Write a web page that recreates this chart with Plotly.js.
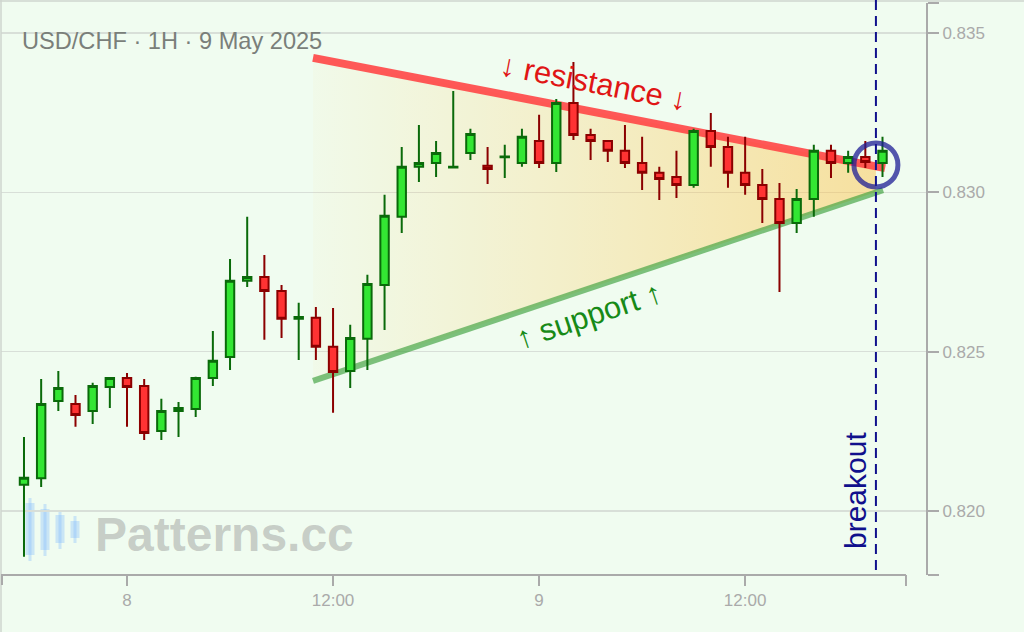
<!DOCTYPE html>
<html>
<head>
<meta charset="utf-8">
<script src="https://cdn.plot.ly/plotly-3.0.1.min.js"></script>
<style>html,body{margin:0;padding:0;background:#f0fcf0;}#chart{width:1024px;height:632px;}</style>
</head>
<body>
<div id="chart"></div>
<script>
// ---- data ----
const times = [
 '2025-05-07 18:00','2025-05-07 19:00','2025-05-07 20:00','2025-05-07 21:00','2025-05-07 22:00','2025-05-07 23:00',
 '2025-05-08 00:00','2025-05-08 01:00','2025-05-08 02:00','2025-05-08 03:00','2025-05-08 04:00','2025-05-08 05:00',
 '2025-05-08 06:00','2025-05-08 07:00','2025-05-08 08:00','2025-05-08 09:00','2025-05-08 10:00','2025-05-08 11:00',
 '2025-05-08 12:00','2025-05-08 13:00','2025-05-08 14:00','2025-05-08 15:00','2025-05-08 16:00','2025-05-08 17:00',
 '2025-05-08 18:00','2025-05-08 19:00','2025-05-08 20:00','2025-05-08 21:00','2025-05-08 22:00','2025-05-08 23:00',
 '2025-05-09 00:00','2025-05-09 01:00','2025-05-09 02:00','2025-05-09 03:00','2025-05-09 04:00','2025-05-09 05:00',
 '2025-05-09 06:00','2025-05-09 07:00','2025-05-09 08:00','2025-05-09 09:00','2025-05-09 10:00','2025-05-09 11:00',
 '2025-05-09 12:00','2025-05-09 13:00','2025-05-09 14:00','2025-05-09 15:00','2025-05-09 16:00','2025-05-09 17:00',
 '2025-05-09 18:00','2025-05-09 19:00','2025-05-09 20:00'
];
const openP = [
 0.82082,0.82103,0.82345,0.82336,0.82314,0.82389,0.82417,0.82392,0.82251,0.82314,0.82320,0.82417,
 0.82483,0.82722,0.82734,0.82690,0.82603,0.82606,0.82515,0.82439,0.82540,0.82709,0.82923,0.83080,
 0.83092,0.83078,0.83123,0.83083,0.83110,0.83092,0.83161,0.83092,0.83280,0.83180,0.83161,0.83130,
 0.83092,0.83061,0.83048,0.83023,0.83192,0.83142,0.83061,0.83023,0.82979,0.82904,0.82979,0.83130,
 0.83092,0.83111,0.83092
];
const highP = [
 0.82232,0.82414,0.82439,0.82364,0.82402,0.82419,0.82433,0.82414,0.82352,0.82342,0.82421,0.82565,
 0.82791,0.82923,0.82803,0.82709,0.82653,0.82640,0.82637,0.82584,0.82741,0.82992,0.83142,0.83211,
 0.83161,0.83318,0.83199,0.83142,0.83149,0.83199,0.83243,0.83293,0.83409,0.83199,0.83163,0.83211,
 0.83174,0.83080,0.83130,0.83199,0.83249,0.83174,0.83174,0.83073,0.83029,0.83010,0.83149,0.83149,
 0.83130,0.83161,0.83174
];
const lowP = [
 0.81856,0.82075,0.82314,0.82264,0.82273,0.82323,0.82264,0.82223,0.82223,0.82232,0.82295,0.82392,
 0.82442,0.82703,0.82537,0.82543,0.82474,0.82474,0.82308,0.82386,0.82442,0.82568,0.82872,0.83032,
 0.83048,0.83076,0.83101,0.83026,0.83045,0.83080,0.83076,0.83064,0.83164,0.83101,0.83095,0.83076,
 0.83007,0.82976,0.82982,0.83014,0.83080,0.83014,0.82992,0.82904,0.82687,0.82872,0.82923,0.83045,
 0.83061,0.83076,0.83048
];
const closeP = [
 0.82104,0.82336,0.82386,0.82301,0.82392,0.82417,0.82389,0.82245,0.82314,0.82323,0.82417,0.82471,
 0.82722,0.82734,0.82690,0.82603,0.82609,0.82515,0.82436,0.82543,0.82712,0.82926,0.83080,0.83092,
 0.83123,0.83080,0.83183,0.83073,0.83112,0.83174,0.83092,0.83280,0.83180,0.83161,0.83130,0.83092,
 0.83061,0.83042,0.83023,0.83192,0.83142,0.83061,0.83023,0.82979,0.82904,0.82979,0.83130,0.83092,
 0.83111,0.83095,0.83130
];
const resistanceX = ['2025-05-08 10:50','2025-05-09 20:09'];
const resistanceY = [0.83422, 0.83076];
const supportX = ['2025-05-08 10:50','2025-05-09 20:02'];
const supportY = [0.82408, 0.83007];
const zoneX = ['2025-05-08 10:50','2025-05-09 19:37','2025-05-09 19:37','2025-05-08 10:50'];
const zoneY = [0.83422, 0.83083, 0.83001, 0.82408];
const breakoutTime = '2025-05-09 19:37';
const breakoutPrice = 0.83086;
const xTickVals = ['2025-05-08 00:00','2025-05-08 12:00','2025-05-09 00:00','2025-05-09 12:00'];
const xTickText = ['8','12:00','9','12:00'];
const yTickVals = [0.81799, 0.820, 0.825, 0.830, 0.835, 0.83594];
const yTickText = ['', '0.820', '0.825', '0.830', '0.835', ''];
const xRange = ['2025-05-07 16:39:40', '2025-05-09 22:32'];
const xAxisEnd = '2025-05-09 21:22';
const yRange = [0.81799, 0.83594];
const titleText = 'USD/CHF · 1H · 9 May 2025';

// ---- layout helpers (pixel -> paper) ----
const ML = 1, MR = 98, MT = 3, MB = 57, W = 1024, H = 632;
const PW = W - ML - MR, PH = H - MT - MB;
const px = X => (X - ML) / PW;
const py = Y => (H - MB - Y) / PH;

const FONT = '"Liberation Sans", Arial, sans-serif';
const AX = '#aaaaaa';

const traces = [
  {
    type: 'scatter', mode: 'lines', x: zoneX, y: zoneY, fill: 'toself',
    line: {width: 0, color: 'rgba(0,0,0,0)'},
    fillgradient: {type: 'horizontal', colorscale: [[0, 'rgba(255,195,70,0.04)'], [1, 'rgba(255,190,60,0.45)']]},
    hoverinfo: 'skip'
  },
  {
    type: 'scatter', mode: 'lines', x: resistanceX, y: resistanceY,
    line: {color: 'rgba(255,70,70,0.9)', width: 8}, hoverinfo: 'skip'
  },
  {
    type: 'scatter', mode: 'lines', x: supportX, y: supportY,
    line: {color: 'rgba(60,160,60,0.65)', width: 6}, hoverinfo: 'skip'
  },
  {
    type: 'candlestick', xaxis: 'x2', yaxis: 'y2',
    x: times, open: openP, high: highP, low: lowP, close: closeP,
    increasing: {fillcolor: '#33e633', line: {color: '#0a6a0a', width: 2}},
    decreasing: {fillcolor: '#ff3333', line: {color: '#8b0000', width: 2}},
    hoverinfo: 'skip'
  }
];

// watermark icon (decoration)
const icon = [
  {x: 30, w0: 498, w1: 561, b0: 503, b1: 555},
  {x: 45, w0: 504, w1: 556, b0: 509, b1: 550},
  {x: 60, w0: 510, w1: 549, b0: 515, b1: 543},
  {x: 75, w0: 516, w1: 543, b0: 521, b1: 538}
];
const iconCol = 'rgba(130,185,255,0.35)';
const shapes = [];
icon.forEach(c => {
  shapes.push({type: 'line', xref: 'paper', yref: 'paper', layer: 'below',
    x0: px(c.x), x1: px(c.x), y0: py(c.w0), y1: py(c.w1), line: {color: iconCol, width: 3}});
  shapes.push({type: 'rect', xref: 'paper', yref: 'paper', layer: 'below',
    x0: px(c.x - 4.5), x1: px(c.x + 4.5), y0: py(c.b0), y1: py(c.b1), fillcolor: iconCol, line: {width: 0}});
});
// frame lines (top & left)
shapes.push({type: 'line', xref: 'paper', yref: 'paper', x0: px(0), x1: px(1024), y0: py(1), y1: py(1), line: {color: '#cfd6cf', width: 1.5}});
shapes.push({type: 'line', xref: 'paper', yref: 'paper', x0: px(1), x1: px(1), y0: py(632), y1: py(0), line: {color: '#cfd6cf', width: 1.5}});
// x axis line with end caps
shapes.push({type: 'line', xref: 'x', yref: 'paper', x0: xRange[0], x1: xAxisEnd, y0: 0, y1: 0, line: {color: AX, width: 2}});
shapes.push({type: 'line', xref: 'paper', yref: 'paper', x0: px(2), x1: px(2), y0: 0, y1: py(585), line: {color: AX, width: 2}});
shapes.push({type: 'line', xref: 'x', yref: 'paper', x0: xAxisEnd, x1: xAxisEnd, y0: 0, y1: py(586), line: {color: AX, width: 2}});
// breakout dashed line
shapes.push({type: 'line', xref: 'x', yref: 'paper', x0: breakoutTime, x1: breakoutTime, y0: py(570), y1: py(0),
  line: {color: '#10108c', width: 2, dash: '10px,6px'}});
// breakout circle
shapes.push({type: 'circle', xref: 'x', yref: 'y', xsizemode: 'pixel', ysizemode: 'pixel',
  xanchor: breakoutTime, yanchor: breakoutPrice, x0: -22, x1: 22, y0: -22, y1: 22,
  line: {color: 'rgba(30,30,150,0.75)', width: 5}});

const annotations = [
  {xref: 'paper', yref: 'paper', x: px(20), y: py(41), xanchor: 'left', yanchor: 'middle', showarrow: false,
   text: titleText, font: {family: FONT, size: 23.6, color: '#7a7f7a'}},
  {xref: 'paper', yref: 'paper', x: px(93), y: py(534), xanchor: 'left', yanchor: 'middle', showarrow: false,
   text: '<b>Patterns.cc</b>', font: {family: FONT, size: 48, color: 'rgba(140,140,140,0.42)'}},
  {xref: 'paper', yref: 'paper', x: px(594), y: py(82), xanchor: 'center', yanchor: 'middle', showarrow: false,
   text: '↓ resistance ↓', textangle: 11, font: {family: FONT, size: 31, color: '#e01515'}},
  {xref: 'paper', yref: 'paper', x: px(589), y: py(315), xanchor: 'center', yanchor: 'middle', showarrow: false,
   text: '↑ support ↑', textangle: -18.5, font: {family: FONT, size: 31, color: '#178a17'}},
  {xref: 'paper', yref: 'paper', x: px(855), y: py(491), xanchor: 'center', yanchor: 'middle', showarrow: false,
   text: 'breakout', textangle: -90, font: {family: FONT, size: 30, color: '#10108c'}}
];

const layout = {
  width: W, height: H,
  margin: {l: ML, r: MR, t: MT, b: MB, pad: 0},
  paper_bgcolor: '#f0fcf0', plot_bgcolor: '#f0fcf0',
  showlegend: false,
  font: {family: FONT},
  xaxis: {
    type: 'date', range: xRange, rangeslider: {visible: false},
    showgrid: false, zeroline: false, showline: false,
    tickmode: 'array', tickvals: xTickVals, ticktext: xTickText,
    ticks: 'outside', ticklen: 10, tickwidth: 2, tickcolor: AX,
    tickfont: {family: FONT, size: 17, color: AX}
  },
  yaxis: {
    range: yRange, side: 'right', showline: true, linecolor: AX, linewidth: 2,
    ticks: 'outside', ticklen: 11, tickwidth: 2, tickcolor: AX,
    tickmode: 'array', tickvals: yTickVals, ticktext: yTickText,
    gridcolor: '#d8dfd8', gridwidth: 1.5, zeroline: false,
    tickfont: {family: FONT, size: 17, color: AX}
  },
  xaxis2: {
    type: 'date', overlaying: 'x', range: xRange, rangeslider: {visible: false},
    visible: false, showgrid: false, zeroline: false
  },
  yaxis2: {
    overlaying: 'y', range: yRange, visible: false, showgrid: false, zeroline: false
  },
  shapes: shapes,
  annotations: annotations
};

Plotly.newPlot('chart', traces, layout, {staticPlot: true, displayModeBar: false});
</script>
</body>
</html>
